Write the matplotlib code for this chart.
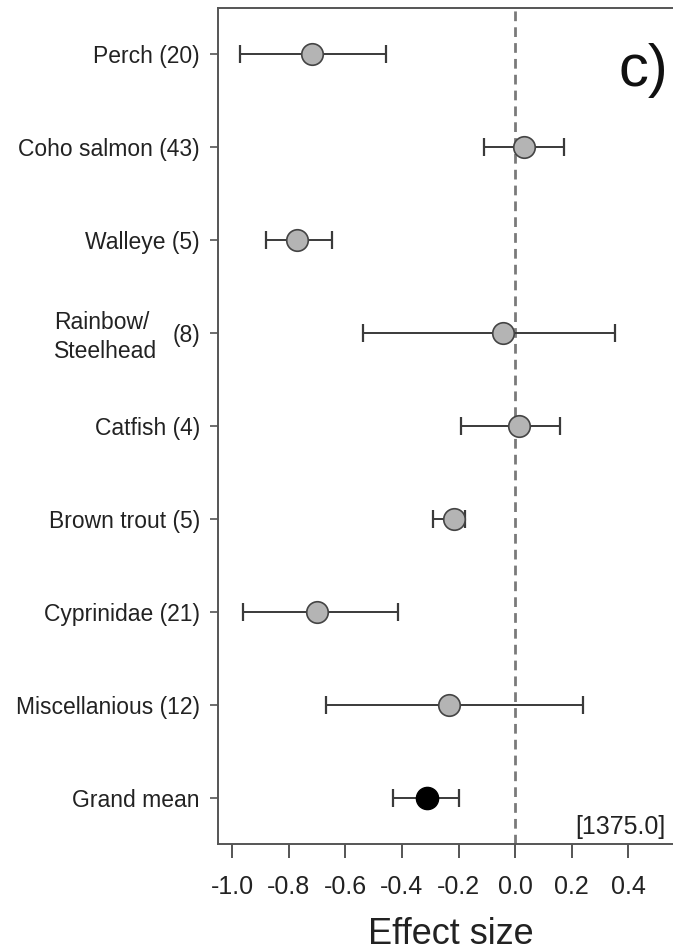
import matplotlib
matplotlib.use("Agg")
import matplotlib.pyplot as plt
import numpy as np

plt.rcParams['font.family'] = ['Liberation Sans', 'DejaVu Sans']

# effect sizes with lower / upper confidence limits, top row first
groups = ['Perch (20)', 'Coho salmon (43)', 'Walleye (5)', '(8)', 'Catfish (4)',
          'Brown trout (5)', 'Cyprinidae (21)', 'Miscellanious (12)', 'Grand mean']
effect = [-0.717, 0.032, -0.770, -0.042, 0.014, -0.216, -0.700, -0.233, -0.311]
lower = [-0.972, -0.110, -0.880, -0.537, -0.191, -0.290, -0.961, -0.668, -0.431]
upper = [-0.456, 0.173, -0.647, 0.353, 0.159, -0.177, -0.413, 0.240, -0.198]
xticks = [-1.0, -0.8, -0.6, -0.4, -0.2, 0.0, 0.2, 0.4]

effect = np.array(effect)
lower = np.array(lower)
upper = np.array(upper)
rows = np.arange(1, len(groups) + 1)

fig = plt.figure(figsize=(6.73, 9.5), dpi=100)
ax = fig.add_axes([218 / 673, 1 - 844 / 950, 1 - 218 / 673, 836 / 950])

axis_col = '#555555'
ax.axvline(0, color='#7a7a7a', lw=2, ls=(0, (3.5, 2.2)), zorder=1)

err = [effect - lower, upper - effect]
ax.errorbar(effect, rows, xerr=err, fmt='none',
            ecolor='#3a3a3a', elinewidth=1.4, capsize=6.5, capthick=1.6, zorder=2)
ax.plot(effect[:-1], rows[:-1], 'o', ms=15.5, mfc='#b4b4b4', mec='#444444',
        mew=1.2, zorder=3)
ax.plot(effect[-1:], rows[-1:], 'o', ms=16, mfc='black', mec='black', zorder=3)

ax.set_xlim(-1.05, 0.558)
ax.set_ylim(len(groups) + 0.5, 0.5)
ax.set_xticks(xticks)
ax.set_xticklabels([f'{t:.1f}' for t in xticks], fontsize=18, color='#222222')
ax.set_yticks(rows)
ax.set_yticklabels(groups, fontsize=16.5, color='#222222')
ax.tick_params(axis='x', length=10, width=1.4, color=axis_col, pad=12)
ax.tick_params(axis='y', length=6, width=1.2, color=axis_col, pad=7)

for side in ['left', 'top', 'bottom']:
    ax.spines[side].set_color(axis_col)
    ax.spines[side].set_linewidth(1.4)
ax.spines['right'].set_visible(False)

# two-line label for the rainbow trout row
ax.annotate('Rainbow/\nSteelhead', xy=(0, 4), xycoords=('axes fraction', 'data'),
            xytext=(-44, -3), textcoords='offset points', ha='right', va='center',
            multialignment='left', fontsize=16.5, color='#222222', linespacing=1.35)

ax.text(0.452, 1.17, 'c)', fontsize=43, ha='center', va='center', color='#111111')
ax.text(0.984, 0.02, '[1375.0]', transform=ax.transAxes, fontsize=18,
        ha='right', va='center', color='#222222')

ax.set_xlabel('Effect size', fontsize=26, color='#222222', labelpad=13)
ax.xaxis.label.set_x(0.511)

fig.savefig('out.png', dpi=100)
